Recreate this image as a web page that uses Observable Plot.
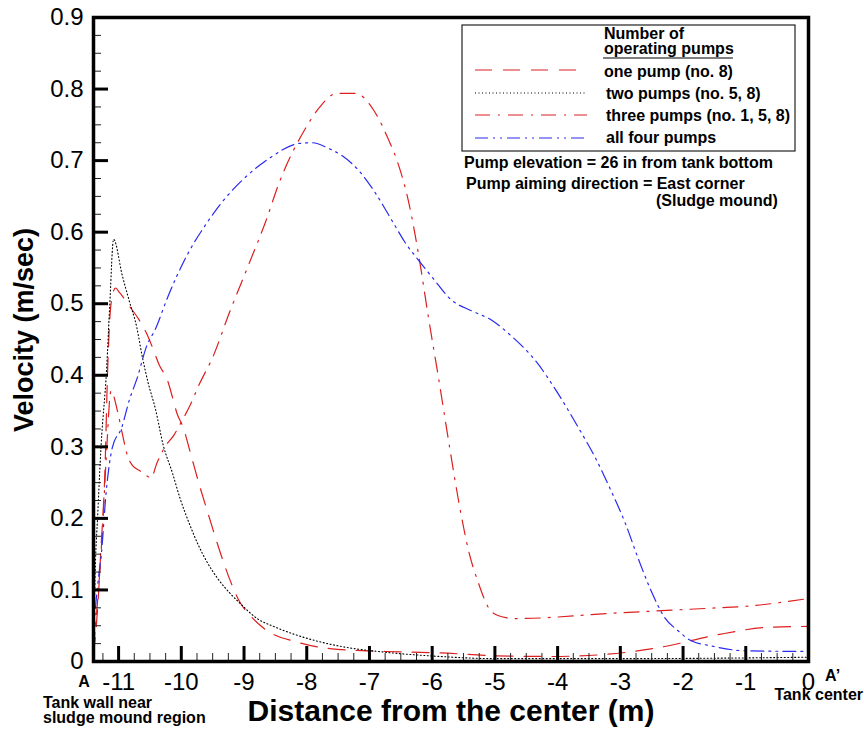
<!DOCTYPE html>
<html>
<head>
<meta charset="utf-8">
<script src="https://cdn.jsdelivr.net/npm/d3@7"></script>
<script src="https://cdn.jsdelivr.net/npm/@observablehq/plot@0.6"></script>
<style>
  html, body { margin: 0; padding: 0; background: #fff; }
  #chart { width: 864px; height: 729px; }
</style>
</head>
<body>
<div id="chart"></div>
<script>
// ---- Data ----
const onePumpX = [-11.40, -11.33, -11.28, -11.22, -11.17, -11.12, -11.05, -10.98, -10.83, -10.67, -10.54, -10.46, -10.35, -10.22, -10.14, -10.07, -9.97, -9.85, -9.71, -9.56, -9.40, -9.22, -9.06, -8.9, -8.68, -8.15, -7.63, -6.75, -5.87, -4.99, -4.11, -3.23, -2.35, -1.47, -0.60, 0];
const onePumpY = [0.01, 0.08, 0.16, 0.26, 0.42, 0.50, 0.522, 0.515, 0.497, 0.477, 0.456, 0.439, 0.414, 0.393, 0.369, 0.347, 0.327, 0.29, 0.246, 0.203, 0.158, 0.113, 0.082, 0.064, 0.046, 0.027, 0.018, 0.014, 0.012, 0.008, 0.007, 0.010, 0.020, 0.037, 0.048, 0.049];

const twoPumpsX = [-11.40, -11.38, -11.33, -11.28, -11.19, -11.14, -11.08, -10.94, -10.83, -10.71, -10.62, -10.53, -10.41, -10.29, -10.14, -10.02, -9.86, -9.73, -9.59, -9.42, -9.22, -9.06, -8.79, -8.5, -7.98, -7.45, -6.75, -5.87, -4.99, -3.0, -1.0, 0];
const twoPumpsY = [0.0, 0.1, 0.21, 0.30, 0.41, 0.50, 0.59, 0.539, 0.504, 0.467, 0.425, 0.39, 0.352, 0.303, 0.263, 0.228, 0.19, 0.163, 0.139, 0.116, 0.095, 0.081, 0.060, 0.048, 0.032, 0.021, 0.013, 0.007, 0.004, 0.004, 0.005, 0.006];

const threePumpsX = [-11.40, -11.33, -11.26, -11.2, -11.12, -11.02, -10.94, -10.86, -10.78, -10.65, -10.48, -10.39, -10.26, -10.12, -10.01, -9.86, -9.71, -9.5, -9.24, -8.92, -8.65, -8.44, -8.04, -7.80, -7.52, -7.22, -6.93, -6.69, -6.56, -6.37, -6.21, -6.06, -5.90, -5.74, -5.58, -5.42, -5.26, -5.10, -4.94, -4.67, -3.03, -1.45, -1.03, 0];
const threePumpsY = [0.02, 0.09, 0.18, 0.28, 0.378, 0.351, 0.318, 0.288, 0.274, 0.266, 0.257, 0.277, 0.30, 0.316, 0.333, 0.358, 0.388, 0.425, 0.486, 0.556, 0.616, 0.669, 0.742, 0.774, 0.794, 0.794, 0.770, 0.728, 0.700, 0.64, 0.565, 0.481, 0.397, 0.309, 0.225, 0.155, 0.109, 0.075, 0.064, 0.060, 0.068, 0.075, 0.077, 0.088];

const fourPumpsX = [-11.40, -11.38, -11.33, -11.27, -11.2, -11.1, -10.95, -10.83, -10.7, -10.56, -10.4, -10.24, -10.08, -9.87, -9.6, -9.35, -9.0, -8.6, -8.12, -7.92, -7.65, -7.44, -7.17, -6.9, -6.64, -6.42, -6.21, -6.0, -5.69, -5.37, -5.05, -4.74, -4.35, -3.99, -3.67, -3.4, -3.15, -2.92, -2.72, -2.51, -2.29, -2.08, -1.87, -1.56, -1.03, 0];
const fourPumpsY = [0.03, 0.061, 0.109, 0.155, 0.235, 0.299, 0.327, 0.365, 0.397, 0.439, 0.467, 0.504, 0.537, 0.574, 0.612, 0.642, 0.675, 0.703, 0.724, 0.725, 0.717, 0.707, 0.686, 0.654, 0.616, 0.584, 0.56, 0.537, 0.505, 0.49, 0.477, 0.455, 0.42, 0.374, 0.327, 0.285, 0.239, 0.193, 0.145, 0.099, 0.061, 0.043, 0.029, 0.022, 0.015, 0.014];

const seriesNames = ["one pump (no. 8)", "two pumps (no. 5, 8)", "three pumps (no. 1, 5, 8)", "all four pumps"];
const legendTitle = ["Number of", "operating pumps"];
const notes = ["Pump elevation = 26 in from tank bottom", "Pump aiming direction = East corner", "(Sludge mound)"];

const xMajorTicks = [-11, -10, -9, -8, -7, -6, -5, -4, -3, -2, -1, 0];
const yMajorTicks = [0, 0.1, 0.2, 0.3, 0.4, 0.5, 0.6, 0.7, 0.8, 0.9];
const xMinorTicks = [-11.25, -10.75, -10.5, -10.25, -9.75, -9.5, -9.25, -8.75, -8.5, -8.25, -7.75, -7.5, -7.25, -6.75, -6.5, -6.25, -5.75, -5.5, -5.25, -4.75, -4.5, -4.25, -3.75, -3.5, -3.25, -2.75, -2.5, -2.25, -1.75, -1.5, -1.25, -0.75, -0.5, -0.25];
const yMinorTicks = [0.025, 0.05, 0.075, 0.125, 0.15, 0.175, 0.225, 0.25, 0.275, 0.325, 0.35, 0.375, 0.425, 0.45, 0.475, 0.525, 0.55, 0.575, 0.625, 0.65, 0.675, 0.725, 0.75, 0.775, 0.825, 0.85, 0.875];

// ---- Styles ----
const RED = "#dd1f1f", BLUE = "#2a2af0", BLACK = "#000";
const styles = [
  {stroke: RED, dash: "17,11", width: 1.2},
  {stroke: BLACK, dash: "1,2.5", width: 1.1},
  {stroke: RED, dash: "15,8,2,8", width: 1.2},
  {stroke: BLUE, dash: "13,5,2,5,2,5", width: 1.2}
];
const FONT = "'Liberation Sans', Arial, Helvetica, sans-serif";

const W = 864, H = 729;
const mL = 93, mR = 56, mT = 17, mB = 68;
const frameW = W - mL - mR, frameH = H - mT - mB;

const toRows = (xs, ys) => xs.map((x, i) => ({x, y: ys[i]}));
const rows = [toRows(onePumpX, onePumpY), toRows(twoPumpsX, twoPumpsY), toRows(threePumpsX, threePumpsY), toRows(fourPumpsX, fourPumpsY)];

const lineMarks = rows.map((data, i) => Plot.line(data, {
  x: "x", y: "y", curve: "monotone-x",
  stroke: styles[i].stroke, strokeWidth: styles[i].width, strokeDasharray: styles[i].dash
}));

const svg = Plot.plot({
  width: W, height: H,
  marginLeft: mL, marginRight: mR, marginTop: mT, marginBottom: mB,
  style: {fontFamily: FONT, fontSize: "24px", background: "#fff", color: "#000"},
  x: {domain: [-11.4, 0], label: null},
  y: {domain: [0, 0.9], label: null},
  marks: [
    ...lineMarks,
    // inward ticks
    Plot.tickX(xMajorTicks, {x: d => d, stroke: "#000", strokeWidth: 3, insetTop: frameH - 15}),
    Plot.tickX(xMinorTicks, {x: d => d, stroke: "#222", strokeWidth: 1, insetTop: frameH - 8}),
    Plot.tickY(yMajorTicks, {y: d => d, stroke: "#000", strokeWidth: 3, insetRight: frameW - 15}),
    Plot.tickY(yMinorTicks, {y: d => d, stroke: "#222", strokeWidth: 1, insetRight: frameW - 8}),
    Plot.frame({stroke: "#000", strokeWidth: 3.5}),
    Plot.axisX({ticks: xMajorTicks, tickSize: 0, tickPadding: 11, tickFormat: d => String(d), fontSize: 24, label: null}),
    Plot.axisY({ticks: yMajorTicks, tickSize: 0, tickPadding: 10, tickFormat: d => d === 0 ? "0" : d.toFixed(1), fontSize: 24, label: null})
  ]
});

document.getElementById("chart").appendChild(svg);

// ---- Annotations / legend added to the same SVG ----
const s = d3.select(svg);
const g = s.append("g").attr("font-family", FONT).attr("fill", "#000").attr("text-anchor", "start");
const label = (x, y, txt, size, anchor = "start") =>
  g.append("text").attr("x", x).attr("y", y).attr("text-anchor", anchor)
    .attr("font-size", size).attr("font-weight", "bold").text(txt);

// Axis titles
label(451, 721, "Distance from the center (m)", 30, "middle");
g.append("text").attr("transform", "translate(33,330) rotate(-90)").attr("text-anchor", "middle")
  .attr("font-size", 27).attr("font-weight", "bold").text("Velocity (m/sec)");

// End labels
label(84, 687, "A", 16, "middle");
label(825, 681, "A\u2019", 16);
label(43, 708, "Tank wall near", 16);
label(43, 723, "sludge mound region", 16);
label(863, 700, "Tank center", 16, "end");

// Legend box
g.append("rect").attr("x", 462).attr("y", 25).attr("width", 333).attr("height", 126)
  .attr("fill", "#fff").attr("stroke", "#222").attr("stroke-width", 1.2);
label(604, 39, legendTitle[0], 16);
label(604, 54, legendTitle[1], 16);
g.append("line").attr("x1", 603).attr("x2", 733).attr("y1", 58).attr("y2", 58).attr("stroke", "#000").attr("stroke-width", 1.2);
const legY = [70, 93, 115, 138];
const legTextY = [77, 99, 121, 143];
seriesNames.forEach((name, i) => {
  g.append("line").attr("x1", 475).attr("x2", 587).attr("y1", legY[i]).attr("y2", legY[i])
    .attr("stroke", styles[i].stroke).attr("stroke-width", styles[i].width).attr("stroke-dasharray", styles[i].dash);
  label(i === 0 ? 604 : 606, legTextY[i], name, 16);
});

// Notes under the legend
label(464, 168, notes[0], 16);
label(466, 189, notes[1], 16);
label(656, 206, notes[2], 16);
</script>
</body>
</html>
